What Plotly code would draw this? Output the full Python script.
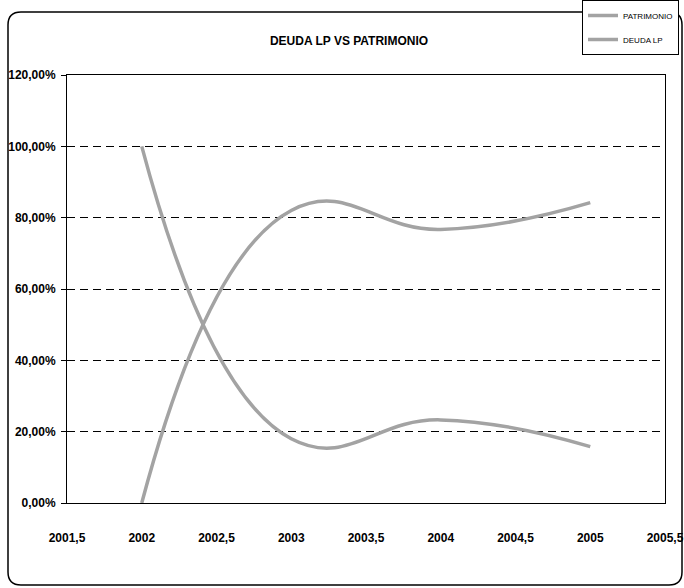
import plotly.graph_objects as go

# ---- data ----
years = [2002, 2003, 2004, 2005]
patrimonio = [0.0, 0.82, 0.767, 0.842]
deuda_lp = [1.00, 0.18, 0.233, 0.158]

x_tickvals = [2001.5, 2002, 2002.5, 2003, 2003.5, 2004, 2004.5, 2005, 2005.5]
x_ticktext = ["2001,5", "2002", "2002,5", "2003", "2003,5", "2004", "2004,5", "2005", "2005,5"]
y_tickvals = [0, 0.2, 0.4, 0.6, 0.8, 1.0, 1.2]
y_ticktext = ["0,00%", "20,00%", "40,00%", "60,00%", "80,00%", "100,00%", "120,00%"]

W, H = 684, 588
L, R, T, B = 67, 19, 75, 85
PW, PH = W - L - R, H - T - B

def px(xp):
    return (xp - L) / PW

def py(yp):
    return (H - B - yp) / PH

FONT = "Liberation Sans, Arial, sans-serif"
LINE_COLOR = "#A3A3A3"

fig = go.Figure()
fig.add_trace(go.Scatter(x=years, y=patrimonio, name="PATRIMONIO", mode="lines",
                         legendgroup="p",
                         line=dict(color=LINE_COLOR, width=3.5, shape="spline", smoothing=1.3)))
fig.add_trace(go.Scatter(x=years, y=deuda_lp, name="DEUDA LP", mode="lines",
                         legendgroup="d",
                         line=dict(color=LINE_COLOR, width=3.5, shape="spline", smoothing=1.3)))

# outer rounded border
x0, x1, y0, y1, r = 8, 682, 12, 585, 13
path = (f"M {px(x0)},{py(y0 + r)} "
        f"Q {px(x0)},{py(y0)} {px(x0 + r)},{py(y0)} "
        f"L {px(x1 - r)},{py(y0)} "
        f"Q {px(x1)},{py(y0)} {px(x1)},{py(y0 + r)} "
        f"L {px(x1)},{py(y1 - r)} "
        f"Q {px(x1)},{py(y1)} {px(x1 - r)},{py(y1)} "
        f"L {px(x0 + r)},{py(y1)} "
        f"Q {px(x0)},{py(y1)} {px(x0)},{py(y1 - r)} Z")
fig.add_shape(type="path", path=path, xref="paper", yref="paper",
              line=dict(color="black", width=1.5), layer="below")

fig.update_layout(
    width=W, height=H,
    margin=dict(l=L, r=R, t=T, b=B, autoexpand=False),
    paper_bgcolor="white", plot_bgcolor="white",
    font=dict(family=FONT, color="black"),
    title=dict(text="DEUDA LP VS PATRIMONIO", x=px(349), xref="paper",
               xanchor="center", y=1 - 41 / H, yanchor="middle",
               font=dict(size=12, family=FONT, color="black", weight="bold")),
    showlegend=True,
    legend=dict(x=582 / W, y=1 + 1 / H, xref="container", yref="container",
                xanchor="left", yanchor="top",
                bgcolor="white", bordercolor="black", borderwidth=1,
                font=dict(size=8, family=FONT, color="black"),
                itemwidth=30, tracegroupgap=5),
    xaxis=dict(range=[2001.5, 2005.5], tickvals=x_tickvals, ticktext=x_ticktext,
               showgrid=False, zeroline=False, showline=True, linecolor="black",
               linewidth=1, mirror=True, ticks="", ticklabelstandoff=24,
               automargin=False,
               tickfont=dict(size=12, family=FONT, color="black", weight="bold")),
    yaxis=dict(range=[0, 1.2], tickvals=y_tickvals, ticktext=y_ticktext,
               showgrid=True, gridcolor="black", gridwidth=1, griddash="8px,5px",
               zeroline=False, showline=True, linecolor="black", linewidth=1,
               mirror=True, ticks="outside", ticklen=5, tickcolor="black",
               ticklabelstandoff=3, automargin=False,
               tickfont=dict(size=12, family=FONT, color="black", weight="bold")),
)

fig.write_html("out.html")
